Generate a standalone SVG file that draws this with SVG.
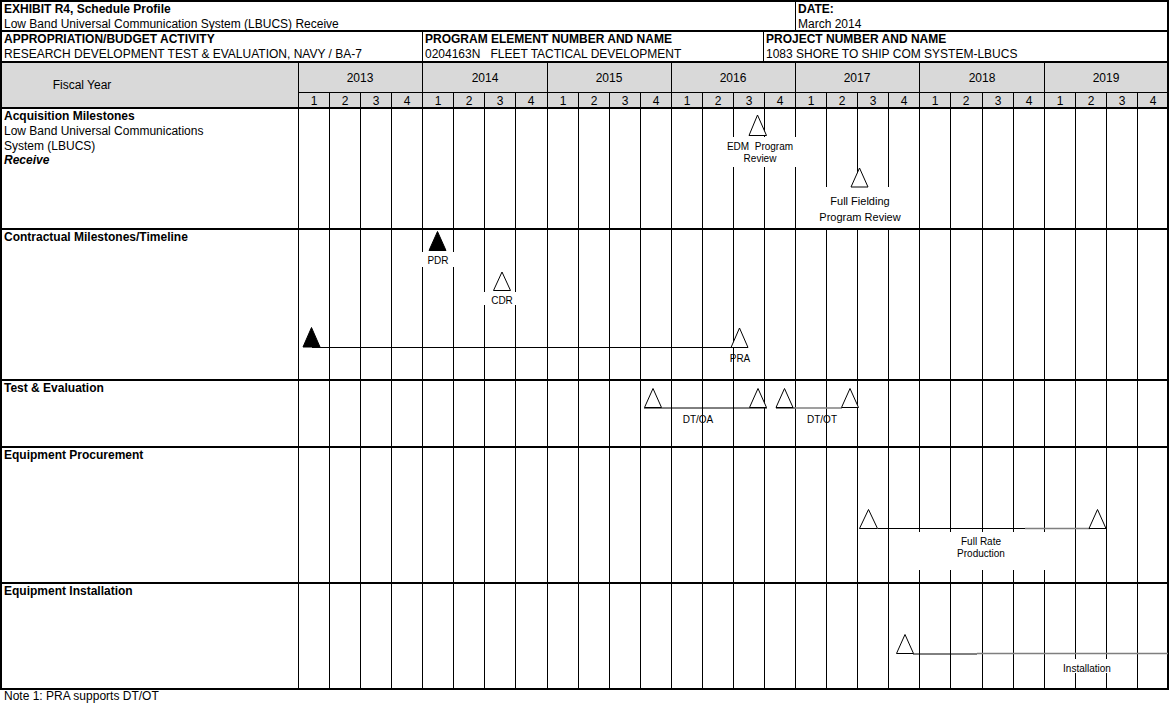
<svg xmlns="http://www.w3.org/2000/svg" width="1170" height="707" viewBox="0 0 1170 707">
<style>
text{font-family:"Liberation Sans",Arial,sans-serif;fill:#000}
.h{font-size:12px}
.b{font-weight:bold}
.bi{font-weight:bold;font-style:italic}
.m{font-size:10px;text-anchor:middle}
.m11{font-size:11px;text-anchor:middle}
.c{text-anchor:middle;font-size:12px}
.g{stroke:#000;stroke-width:1;fill:none}
.t{stroke:#000;stroke-width:2;fill:none}
.open{fill:#fff;stroke:#000;stroke-width:1}
.fill{fill:#000;stroke:#000;stroke-width:1}
.wb{fill:#fff;stroke:none}
.ln{stroke:#000;stroke-width:1;fill:none}
.lg{stroke:#7f7f7f;stroke-width:1.5;fill:none}
</style>
<rect x="0" y="0" width="1170" height="707" fill="#fff"/>
<rect x="1" y="62" width="1167" height="46" fill="#d9d9d9"/>

<g id="grid">
<path class="g" d="M795.5 1V31M422.5 31V62M763.5 31V62"/>
<path class="g" d="M298.5 62V689M422.5 62V689M547.5 62V689M671.5 62V689M795.5 62V689M919.5 62V689M1044.5 62V689"/>
<path class="g" d="M298 92.5H1168"/>
<path class="g" d="M329.5 92V689M360.5 92V689M391.5 92V689M453.5 92V689M484.5 92V689M515.5 92V689M578.5 92V689M609.5 92V689M640.5 92V689M702.5 92V689M733.5 92V689M764.5 92V689M826.5 92V689M857.5 92V689M888.5 92V689M950.5 92V689M982.5 92V689M1013.5 92V689M1075.5 92V689M1106.5 92V689M1137.5 92V689"/>
</g>

<g id="label-boxes">
<rect class="wb" x="725" y="137" width="72" height="30"/>
<rect class="wb" x="815" y="187" width="88" height="42"/>
<rect class="wb" x="419" y="252" width="38" height="15"/>
<rect class="wb" x="481" y="292" width="37" height="13"/>
<rect class="wb" x="892" y="532" width="179" height="38"/>
<rect class="wb" x="1060" y="659" width="52" height="14"/>
</g>

<g id="frame">
<rect class="t" x="1" y="1" width="1167" height="688"/>
<path class="t" d="M1 31H1168M1 62H1168M1 108H1168M1 229H1168M1 380H1168M1 447H1168M1 583H1168"/>
</g>

<g id="header">
<text class="h b" x="4" y="13">EXHIBIT R4, Schedule Profile</text>
<text class="h" x="4" y="27.5">Low Band Universal Communication System (LBUCS) Receive</text>
<text class="h b" x="798" y="13">DATE:</text>
<text class="h" x="798" y="27.5">March 2014</text>
<text class="h b" x="4" y="43">APPROPRIATION/BUDGET ACTIVITY</text>
<text class="h" x="4" y="57.5">RESEARCH DEVELOPMENT TEST &amp; EVALUATION, NAVY / BA-7</text>
<text class="h b" x="425" y="43">PROGRAM ELEMENT NUMBER AND NAME</text>
<text class="h" x="425" y="57.5" xml:space="preserve">0204163N   FLEET TACTICAL DEVELOPMENT</text>
<text class="h b" x="766" y="43">PROJECT NUMBER AND NAME</text>
<text class="h" x="766" y="57.5">1083 SHORE TO SHIP COM SYSTEM-LBUCS</text>
<text class="c" x="82" y="89">Fiscal Year</text>
<text class="c" x="360" y="81.5">2013</text>
<text class="c" x="485" y="81.5">2014</text>
<text class="c" x="609" y="81.5">2015</text>
<text class="c" x="733" y="81.5">2016</text>
<text class="c" x="857" y="81.5">2017</text>
<text class="c" x="982" y="81.5">2018</text>
<text class="c" x="1106" y="81.5">2019</text>
<g class="quarters">
<text class="c" x="314" y="105">1</text><text class="c" x="345" y="105">2</text><text class="c" x="376" y="105">3</text><text class="c" x="407" y="105">4</text>
<text class="c" x="438" y="105">1</text><text class="c" x="469" y="105">2</text><text class="c" x="500" y="105">3</text><text class="c" x="531" y="105">4</text>
<text class="c" x="563" y="105">1</text><text class="c" x="594" y="105">2</text><text class="c" x="625" y="105">3</text><text class="c" x="656" y="105">4</text>
<text class="c" x="687" y="105">1</text><text class="c" x="718" y="105">2</text><text class="c" x="749" y="105">3</text><text class="c" x="780" y="105">4</text>
<text class="c" x="811" y="105">1</text><text class="c" x="842" y="105">2</text><text class="c" x="873" y="105">3</text><text class="c" x="904" y="105">4</text>
<text class="c" x="935" y="105">1</text><text class="c" x="966" y="105">2</text><text class="c" x="998" y="105">3</text><text class="c" x="1029" y="105">4</text>
<text class="c" x="1060" y="105">1</text><text class="c" x="1091" y="105">2</text><text class="c" x="1122" y="105">3</text><text class="c" x="1153" y="105">4</text>
</g>
</g>

<g id="row-labels">
<text class="h b" x="4" y="120">Acquisition Milestones</text>
<text class="h" x="4" y="135">Low Band Universal Communications</text>
<text class="h" x="4" y="149.5">System (LBUCS)</text>
<text class="h bi" x="4" y="164">Receive</text>
<text class="h b" x="4" y="241">Contractual Milestones/Timeline</text>
<text class="h b" x="4" y="392">Test &amp; Evaluation</text>
<text class="h b" x="4" y="459">Equipment Procurement</text>
<text class="h b" x="4" y="595">Equipment Installation</text>
<text class="h" x="4" y="700">Note 1: PRA supports DT/OT</text>
</g>

<g id="connectors">
<path class="ln" d="M312 347.5H732"/>
<path class="ln" d="M644 408H767"/>
<path class="ln" d="M776 408H795"/>
<path class="lg" d="M795 408H842"/>
<path class="ln" d="M878 528.5H1025"/>
<path class="lg" d="M1025 528.5H1090"/>
<path class="ln" d="M913 654H977"/>
<path class="lg" d="M977 653.5H1168"/>
</g>

<g id="edm-review">
<polygon class="open" points="757.5,115 749,135.5 766.5,135.5"/>
<text class="m" x="760" y="150" xml:space="preserve">EDM  Program</text>
<text class="m" x="760" y="162">Review</text>
</g>
<g id="full-fielding-review">
<polygon class="open" points="859.5,168 851,187 868,187"/>
<text class="m11" x="860" y="205">Full Fielding</text>
<text class="m11" x="860" y="221">Program Review</text>
</g>
<g id="pdr">
<polygon class="fill" points="437.5,231.5 429,250.5 446,250.5"/>
<text class="m" x="438" y="264">PDR</text>
</g>
<g id="cdr">
<polygon class="open" points="502,272 493.5,290.5 510.5,290.5"/>
<text class="m" x="502" y="304">CDR</text>
</g>
<g id="contract-award">
<polygon class="fill" points="311.5,327.5 303,347 320,347"/>
</g>
<g id="pra">
<polygon class="open" points="739.5,328 731,347.5 748,347.5"/>
<text class="m" x="740" y="361.5">PRA</text>
</g>
<g id="dtoa-start">
<polygon class="open" points="653,388.5 644.5,407.5 661.5,407.5"/>
</g>
<g id="dtoa-end">
<polygon class="open" points="758,388.5 749.5,407.5 766.5,407.5"/>
</g>
<text class="m" x="698" y="423">DT/OA</text>
<g id="dtot-start">
<polygon class="open" points="784.5,388.5 776,407.5 793,407.5"/>
</g>
<g id="dtot-end">
<polygon class="open" points="850,388.5 841.5,407.5 858.5,407.5"/>
</g>
<text class="m" x="822" y="423">DT/OT</text>
<g id="frp-start">
<polygon class="open" points="868.5,509.5 859.5,528.5 877.5,528.5"/>
</g>
<g id="frp-end">
<polygon class="open" points="1097.5,509.5 1089,528.5 1106,528.5"/>
</g>
<g id="frp-label">
<text class="m" x="981" y="545">Full Rate</text>
<text class="m" x="981" y="557">Production</text>
</g>
<g id="installation-start">
<polygon class="open" points="905,634.5 896.5,653.5 913.5,653.5"/>
</g>
<g id="installation-label">
<text class="m" x="1087" y="672">Installation</text>
</g>
</svg>
